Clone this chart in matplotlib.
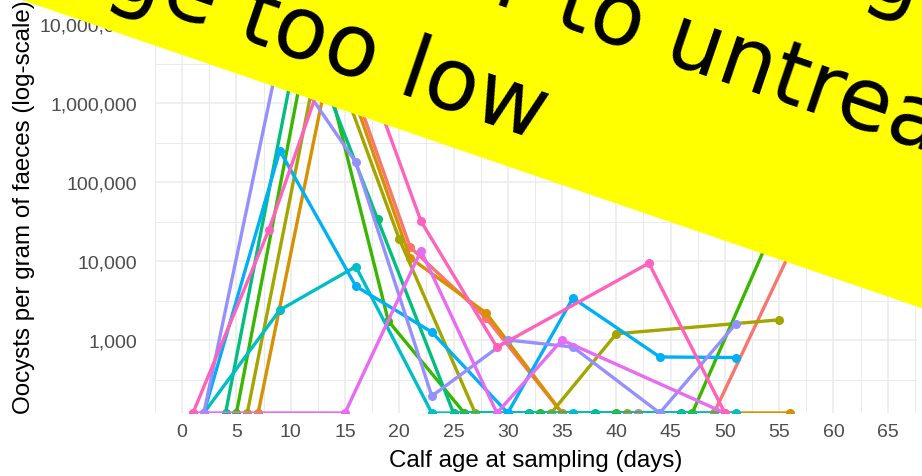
import numpy as np
import matplotlib
matplotlib.use('Agg')
import matplotlib.pyplot as plt
from matplotlib.patches import Polygon
from matplotlib.transforms import IdentityTransform
from matplotlib.ticker import FixedLocator, FuncFormatter, NullFormatter

# sampling days and oocysts per gram for each calf (0 = none detected)
days_c01 = [14, 21, 28, 35, 42, 49, 58, 64]
opg_c01 = [8e6, 15000, 1900, 0, 0, 0, 49000, 250000]
days_c02 = [7, 14, 21, 28, 35, 41, 49, 56]
opg_c02 = [0, 6e6, 11000, 2200, 0, 0, 0, 0]
days_c03 = [6, 13, 20, 27, 34, 40, 55]
opg_c03 = [0, 8e6, 19000, 0, 0, 1200, 1800]
days_c04 = [5, 12, 19, 26, 33, 40, 47, 55]
opg_c04 = [0, 1.2e7, 1740, 0, 0, 0, 0, 38000]
days_c05 = [4, 11, 18, 25, 32, 38, 46]
opg_c05 = [0, 1e7, 34000, 0, 0, 0, 0]
days_c06 = [2, 9, 16, 23, 30, 36, 44, 51]
opg_c06 = [0, 2400, 8500, 0, 0, 0, 0, 0]
days_c07 = [2, 9, 16, 23, 30, 36, 44, 51]
opg_c07 = [0, 250000, 4800, 1260, 0, 3400, 610, 600]
days_c08 = [2, 9, 16, 23, 30, 36, 44, 51]
opg_c08 = [0, 4.5e6, 178000, 195, 1000, 815, 0, 1600]
days_c09 = [1, 15, 22, 29, 35, 50]
opg_c09 = [0, 0, 13500, 0, 1000, 0]
days_c10 = [1, 8, 15, 22, 29, 43, 50]
opg_c10 = [0, 25000, 1.4e7, 32000, 810, 9400, 0]

calf_colors = ["#F8766D", "#D89000", "#A3A500", "#39B600", "#00BF7D",
               "#00BFC4", "#00B0F6", "#9590FF", "#E76BF3", "#FF62BC"]

x_ticks = list(range(0, 70, 5))
y_ticks = [1e3, 1e4, 1e5, 1e6, 1e7]

banner_lines = ["No efficacy: oocyst shedding", "similar to untreated", "dosage too low"]

calves = [(days_c01, opg_c01), (days_c02, opg_c02), (days_c03, opg_c03),
          (days_c04, opg_c04), (days_c05, opg_c05), (days_c06, opg_c06),
          (days_c07, opg_c07), (days_c08, opg_c08), (days_c09, opg_c09),
          (days_c10, opg_c10)]

W, H = 922, 477
fig = plt.figure(figsize=(W / 100, H / 100), dpi=100)
ax = fig.add_axes([155 / W, 63 / H, 762 / W, 414 / H])

ymin, ymax = 10 ** 2.076, 10 ** 7.317
ax.set_yscale('log')
ax.set_xlim(-2.5, 67.7)
ax.set_ylim(ymin, ymax)

for (d, v), col in zip(calves, calf_colors):
    v = np.asarray(v, dtype=float)
    # zero counts sit on the bottom edge of the panel (log of 0 is -inf)
    v = np.where(v > 0, v, ymin)
    ax.plot(d, v, color=col, lw=2.4, marker='o', ms=5.5, zorder=3,
            solid_capstyle='round')

ax.xaxis.set_major_locator(FixedLocator(x_ticks))
ax.xaxis.set_minor_locator(FixedLocator(np.arange(-2.5, 70, 5)))
ax.yaxis.set_major_locator(FixedLocator(y_ticks))
ax.yaxis.set_minor_locator(FixedLocator([10 ** (k + 0.5) for k in range(2, 8)]))
ax.yaxis.set_major_formatter(FuncFormatter(lambda v, p: f"{int(round(v)):,}"))
ax.yaxis.set_minor_formatter(NullFormatter())

ax.grid(which='major', color='#EBEBEB', lw=1.1)
ax.grid(which='minor', color='#EBEBEB', lw=0.7)
ax.set_axisbelow(True)
for s in ax.spines.values():
    s.set_visible(False)
ax.tick_params(which='both', length=0)
ax.tick_params(axis='x', pad=7, labelsize=14, labelcolor='#4D4D4D')
ax.tick_params(axis='y', pad=13, labelsize=14, labelcolor='#4D4D4D')
for lab in ax.get_xticklabels() + ax.get_yticklabels():
    lab.set_fontfamily('Liberation Sans')

fig.text(536 / W, 1 - 461 / H, "Calf age at sampling (days)", ha='center',
         va='center', fontsize=17.4, family='Liberation Sans')
fig.text(24 / W, 1 - 207 / H, "Oocysts per gram of faeces (log-scale)",
         ha='center', va='center', rotation=90, fontsize=17.4,
         family='Liberation Sans')

# yellow banner across the top right
ang = np.deg2rad(18.9)
u = np.array([np.cos(ang), np.sin(ang)])      # along the banner (pixels, y down)
n = np.array([np.sin(ang), -np.cos(ang)])     # towards the upper edge
p0 = np.array([460.0, 151.0])
corners = [p0 - 900 * u, p0 + 900 * u, p0 + 900 * u + 600 * n, p0 - 900 * u + 600 * n]
corners = [(c[0], H - c[1]) for c in corners]
fig.patches.append(Polygon(corners, closed=True, facecolor='#FFFF00',
                           edgecolor='none', transform=IdentityTransform(),
                           zorder=10))

anchors = [(915, 12, 'right'), (247, -81, 'left'), (537, 140, 'right')]
for txt, (x, y, ha) in zip(banner_lines, anchors):
    fig.text(x, H - y, txt, transform=IdentityTransform(), rotation=-18.9,
             rotation_mode='anchor', ha=ha, va='baseline', fontsize=63,
             family='DejaVu Sans', color='black', zorder=11)

fig.savefig('out.png', dpi=100)
